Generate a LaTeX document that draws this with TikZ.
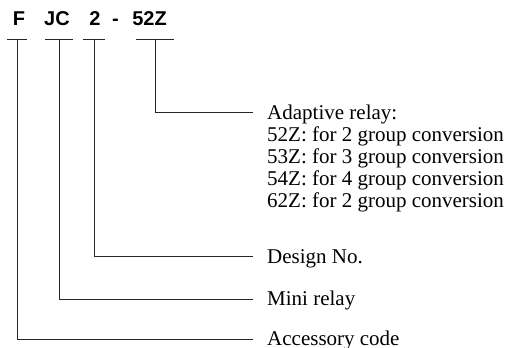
\documentclass[tikz,border=0pt]{standalone}
\usepackage{fontspec}
\setmainfont{Liberation Serif}
\newfontfamily\codefont{Liberation Sans}
\usepackage{xcolor}
\usepackage{tikz}
\usetikzlibrary{positioning}

\begin{document}
\begin{tikzpicture}[x=1pt,y=-1pt,
codeletter/.style={font=\codefont\fontsize{20}{22}\selectfont\bfseries,inner sep=0pt,anchor=base},
desc/.style={font=\fontsize{21}{22}\selectfont,inner sep=0pt,anchor=base west,align=left,xshift=14pt,yshift=-7pt},
tick/.style={line width=0.9pt,draw=black!85}]
\useasboundingbox (0,0) rectangle (509,348);
% model code
\node[codeletter] (F) at (19,25.5) {F};
\node[codeletter] (JC) at (57,25.5) {JC};
\node[codeletter] (two) at (95,25.5) {2};
\node[codeletter] (dash) at (115.5,25.5) {-};
\node[codeletter] (type) at (149.5,25.5) {52Z};
% tick bars under each part
\coordinate (Ftop) at (17,39); \coordinate (JCtop) at (59,39);
\coordinate (twotop) at (94,39); \coordinate (typetop) at (155,39);
\draw[tick] (7,39)--(27,39); \draw[tick] (45,39)--(73,39);
\draw[tick] (83,39)--(105,39); \draw[tick] (136,39)--(174,39);
% line ends and descriptions
\coordinate (typeend) at (253,112.5); \coordinate (twoend) at (253,256);
\coordinate (JCend) at (253,299); \coordinate (Fend) at (253,339.5);
\node[desc,yshift=-88pt] (adaptive) at (typeend) {Adaptive relay:\\52Z: for 2 group conversion\\53Z: for 3 group conversion\\54Z: for 4 group conversion\\62Z: for 2 group conversion};
\node[desc] (design) at (twoend) {Design No.};
\node[desc,yshift=1pt] (mini) at (JCend) {Mini relay};
\node[desc,yshift=1.5pt] (accessory) at (Fend) {Accessory code};
\draw[tick] (typetop)|-(typeend); \draw[tick] (twotop)|-(twoend);
\draw[tick] (JCtop)|-(JCend); \draw[tick] (Ftop)|-(Fend);
\end{tikzpicture}
\end{document}
